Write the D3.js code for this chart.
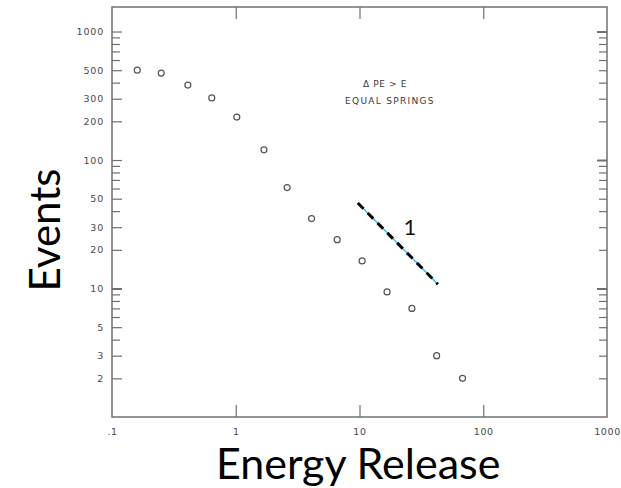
<!DOCTYPE html>
<html>
<head>
<meta charset="utf-8">
<script src="https://cdn.jsdelivr.net/npm/d3@7/dist/d3.min.js"></script>
<style>
  html, body { margin: 0; padding: 0; background: #fff; }
  svg { display: block; }
</style>
</head>
<body>
<svg id="chart" width="621" height="488"></svg>
<script>
// ---- data ----
const energy = [0.16, 0.25, 0.41, 0.64, 1.02, 1.69, 2.6, 4.1, 6.6, 10.5, 16.7, 26.5, 42, 68];
const events = [500, 475, 383, 304, 216, 120, 61, 35, 24, 16.4, 9.4, 7.0, 3.0, 2.0];
const slopeLineX = [9.7, 43];
const slopeLineY = [46.3, 10.8];
const xTickValues = [0.1, 1, 10, 100, 1000];
const xTickLabels = [".1", "1", "10", "100", "1000"];
const yLabelValues = [2, 3, 5, 10, 20, 30, 50, 100, 200, 300, 500, 1000];
const yMinorValues = [2,3,4,5,6,7,8,9,10,20,30,40,50,60,70,80,90,100,200,300,400,500,600,700,800,900,1000];

(function () {
const svg = d3.select("#chart");
const mLeft = 112, mRight = 607, mTop = 7, mBottom = 417;

const x = d3.scaleLog().domain([0.1, 1000]).range([mLeft, mRight]);
const y = d3.scaleLog().domain([1, 1552]).range([mBottom, mTop]);

const frameColor = "#707070";
const labelColor = "#4a4a4a";
const tickFont = "'DejaVu Sans', sans-serif";

// frame
svg.append("rect")
  .attr("x", mLeft).attr("y", mTop)
  .attr("width", mRight - mLeft).attr("height", mBottom - mTop)
  .attr("fill", "none").attr("stroke", frameColor).attr("stroke-width", 1.5);

// left axis (inward ticks)
const yAxisL = d3.axisLeft(y)
  .tickValues(yMinorValues)
  .tickSizeInner(-8).tickSizeOuter(0).tickPadding(8)
  .tickFormat(d => yLabelValues.includes(d) ? d3.format("d")(d) : "");
const gL = svg.append("g").attr("transform", `translate(${mLeft},0)`).call(yAxisL);
gL.select(".domain").remove();
gL.selectAll(".tick line")
  .attr("x2", d => yLabelValues.includes(d) ? 10 : 8)
  .attr("stroke", frameColor).attr("stroke-width", d => d === 10 ? 2 : 1.2);
gL.selectAll(".tick text")
  .attr("fill", labelColor).style("font-family", tickFont).style("font-size", "9.5px")
  .style("letter-spacing", "0.8px");

// right axis (inward ticks, no labels)
const yAxisR = d3.axisRight(y)
  .tickValues(yMinorValues)
  .tickSizeInner(-8).tickSizeOuter(0)
  .tickFormat("");
const gR = svg.append("g").attr("transform", `translate(${mRight},0)`).call(yAxisR);
gR.select(".domain").remove();
gR.selectAll(".tick line")
  .attr("x2", d => (d === 1000 || d === 100 || d === 10) ? -10 : -8)
  .attr("stroke", frameColor).attr("stroke-width", d => (d === 1000 || d === 100 || d === 10) ? 2 : 1.2);

// bottom axis
const xAxisB = d3.axisBottom(x)
  .tickValues(xTickValues)
  .tickSizeInner(-12).tickSizeOuter(0).tickPadding(11)
  .tickFormat((d, i) => xTickLabels[i]);
const gB = svg.append("g").attr("transform", `translate(0,${mBottom})`).call(xAxisB);
gB.select(".domain").remove();
gB.selectAll(".tick line")
  .attr("stroke", frameColor).attr("stroke-width", 1.2)
  .attr("opacity", d => (d === 0.1 || d === 1000) ? 0 : 1);
gB.selectAll(".tick text")
  .attr("fill", labelColor).style("font-family", tickFont).style("font-size", "9.5px")
  .style("letter-spacing", "0.6px");

// top axis
const xAxisT = d3.axisTop(x)
  .tickValues([1, 10, 100])
  .tickSizeInner(-12).tickSizeOuter(0)
  .tickFormat("");
const gT = svg.append("g").attr("transform", `translate(0,${mTop})`).call(xAxisT);
gT.select(".domain").remove();
gT.selectAll(".tick line").attr("stroke", frameColor).attr("stroke-width", 1.2);

// data points
svg.append("g").selectAll("circle")
  .data(energy.map((e, i) => [e, events[i]]))
  .join("circle")
  .attr("cx", d => x(d[0]))
  .attr("cy", d => y(d[1]))
  .attr("r", 3)
  .attr("fill", "none")
  .attr("stroke", "#555")
  .attr("stroke-width", 1.2);

// slope reference line: thin cyan under black dashes
const lineData = slopeLineX.map((v, i) => [v, slopeLineY[i]]);
const line = d3.line().x(d => x(d[0])).y(d => y(d[1]));
svg.append("path").datum(lineData).attr("d", line)
  .attr("stroke", "#27b4e8").attr("stroke-width", 1.2).attr("fill", "none");
svg.append("path").datum(lineData).attr("d", line)
  .attr("stroke", "#000").attr("stroke-width", 3).attr("fill", "none")
  .attr("stroke-dasharray", "8,6");

// slope label
svg.append("text")
  .attr("x", 410).attr("y", 235)
  .attr("text-anchor", "middle")
  .style("font-family", "Lato, 'Open Sans', sans-serif")
  .style("font-size", "22px")
  .attr("fill", "#111")
  .text("1");

// annotation
const annFont = "'DejaVu Sans', sans-serif";
svg.append("text")
  .attr("x", 385).attr("y", 87).attr("text-anchor", "middle")
  .style("font-family", annFont).style("font-size", "9px")
  .attr("fill", "#3a3a3a").style("letter-spacing", "0.6px")
  .text("Δ PE > E");
svg.append("text")
  .attr("x", 390).attr("y", 104).attr("text-anchor", "middle")
  .style("font-family", annFont).style("font-size", "9px")
  .attr("fill", "#3a3a3a").style("letter-spacing", "1.3px")
  .text("EQUAL SPRINGS");

// axis titles
svg.append("text")
  .attr("x", 216).attr("y", 479).attr("text-anchor", "start")
  .style("font-family", "Lato, 'Open Sans', sans-serif")
  .style("font-size", "43px")
  .attr("fill", "#000")
  .text("Energy Release");

svg.append("text")
  .attr("transform", "translate(60,230) rotate(-90)")
  .attr("text-anchor", "middle")
  .style("font-family", "Lato, 'Open Sans', sans-serif")
  .style("font-size", "42px")
  .attr("fill", "#000")
  .text("Events");
})();
</script>
</body>
</html>
